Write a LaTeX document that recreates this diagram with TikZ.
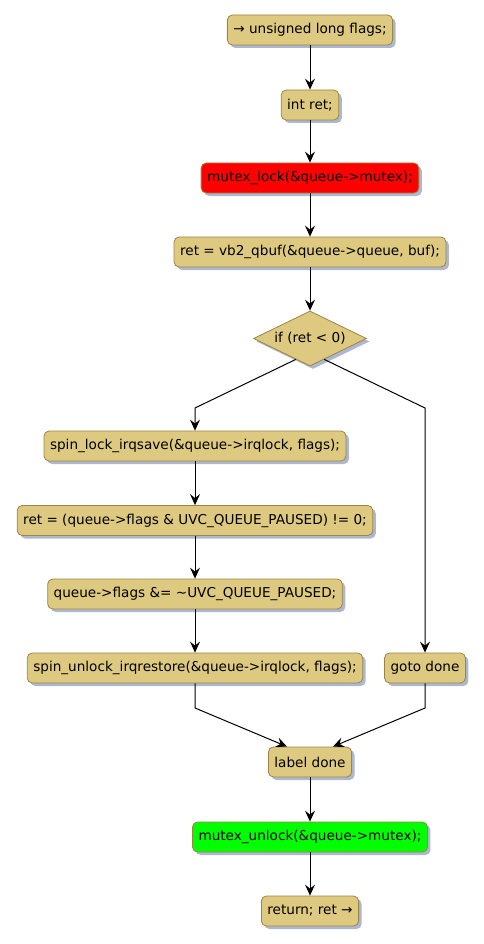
\documentclass[tikz,border=0pt]{standalone}
\usepackage{fontspec}
\setmainfont{DejaVu Sans}
\usetikzlibrary{shapes.geometric,arrows.meta,shadows,calc}
\definecolor{boxfill}{HTML}{DDC97F}
\definecolor{boxline}{HTML}{9C8446}
\definecolor{shadowc}{HTML}{98A6C4}
\tikzset{
  act/.style={draw=boxline, fill=boxfill, rounded corners=5pt, line width=0.8pt,
    minimum height=30pt, inner xsep=6pt, inner ysep=0pt, font=\fontsize{13.6}{15}\selectfont,
    drop shadow={shadow xshift=3pt, shadow yshift=-3pt, fill=shadowc, opacity=0.8}},
  cond/.style={draw=boxline, fill=boxfill, shape=diamond, line width=0.8pt,
    minimum width=113pt, minimum height=55pt, inner sep=0pt, aspect=2,
    font=\fontsize{13.6}{15}\selectfont,
    drop shadow={shadow xshift=3pt, shadow yshift=-3pt, fill=shadowc, opacity=0.8}},
  flow/.style={draw=black, line width=1pt, -{Stealth[length=11pt, width=10pt, inset=4pt]}},
}
\begin{document}
\begin{tikzpicture}[x=1pt, y=-1pt]
\useasboundingbox (0,0) rectangle (484,944);
\node[act] (n1) at (310,30) {→ unsigned long flags;};
\node[act] (n2) at (310,105) {int ret;};
\node[act, fill=red] (n3) at (310,178) {mutex\_lock(\&queue->mutex);};
\node[act] (n4) at (310,252) {ret = vb2\_qbuf(\&queue->queue, buf);};
\node[cond] (d) at (310,338.5) {if (ret < 0)};
\node[act] (n5) at (195,446) {spin\_lock\_irqsave(\&queue->irqlock, flags);};
\node[act] (n6) at (195,520.5) {ret = (queue->flags \& UVC\_QUEUE\_PAUSED) != 0;};
\node[act] (n7) at (195,594) {queue->flags \&= \char`\~UVC\_QUEUE\_PAUSED;};
\node[act] (n8) at (195,668) {spin\_unlock\_irqrestore(\&queue->irqlock, flags);};
\node[act] (n9) at (425,668) {goto done};
\node[act] (n10) at (310,762) {label done};
\node[act, fill=green] (n11) at (310,837) {mutex\_unlock(\&queue->mutex);};
\node[act] (n12) at (310,911) {return; ret →};

\coordinate (dl) at ($(d.south)!0.25!(d.west)$);
\coordinate (dr) at ($(d.south)!0.25!(d.east)$);
\coordinate (lbend) at (195,408);
\coordinate (rbend) at (425,408);
\coordinate (m1) at (195,708);
\coordinate (m2) at (425,708);
\coordinate (t1) at (287,762);
\coordinate (t2) at (333,762);

\draw[flow] (n1) -- (n2);
\draw[flow] (n2) -- (n3);
\draw[flow] (n3) -- (n4);
\draw[flow] (n4) -- (d);
\draw[flow] (dl) -- (lbend) -- (n5.north);
\draw[flow] (dr) -- (rbend) -- (n9.north);
\draw[flow] (n5) -- (n6);
\draw[flow] (n6) -- (n7);
\draw[flow] (n7) -- (n8);
\draw[flow] (n8.south) -- (m1) -- (t1 |- n10.north);
\draw[flow] (n9.south) -- (m2) -- (t2 |- n10.north);
\draw[flow] (n10) -- (n11);
\draw[flow] (n11) -- (n12);
\end{tikzpicture}
\end{document}
